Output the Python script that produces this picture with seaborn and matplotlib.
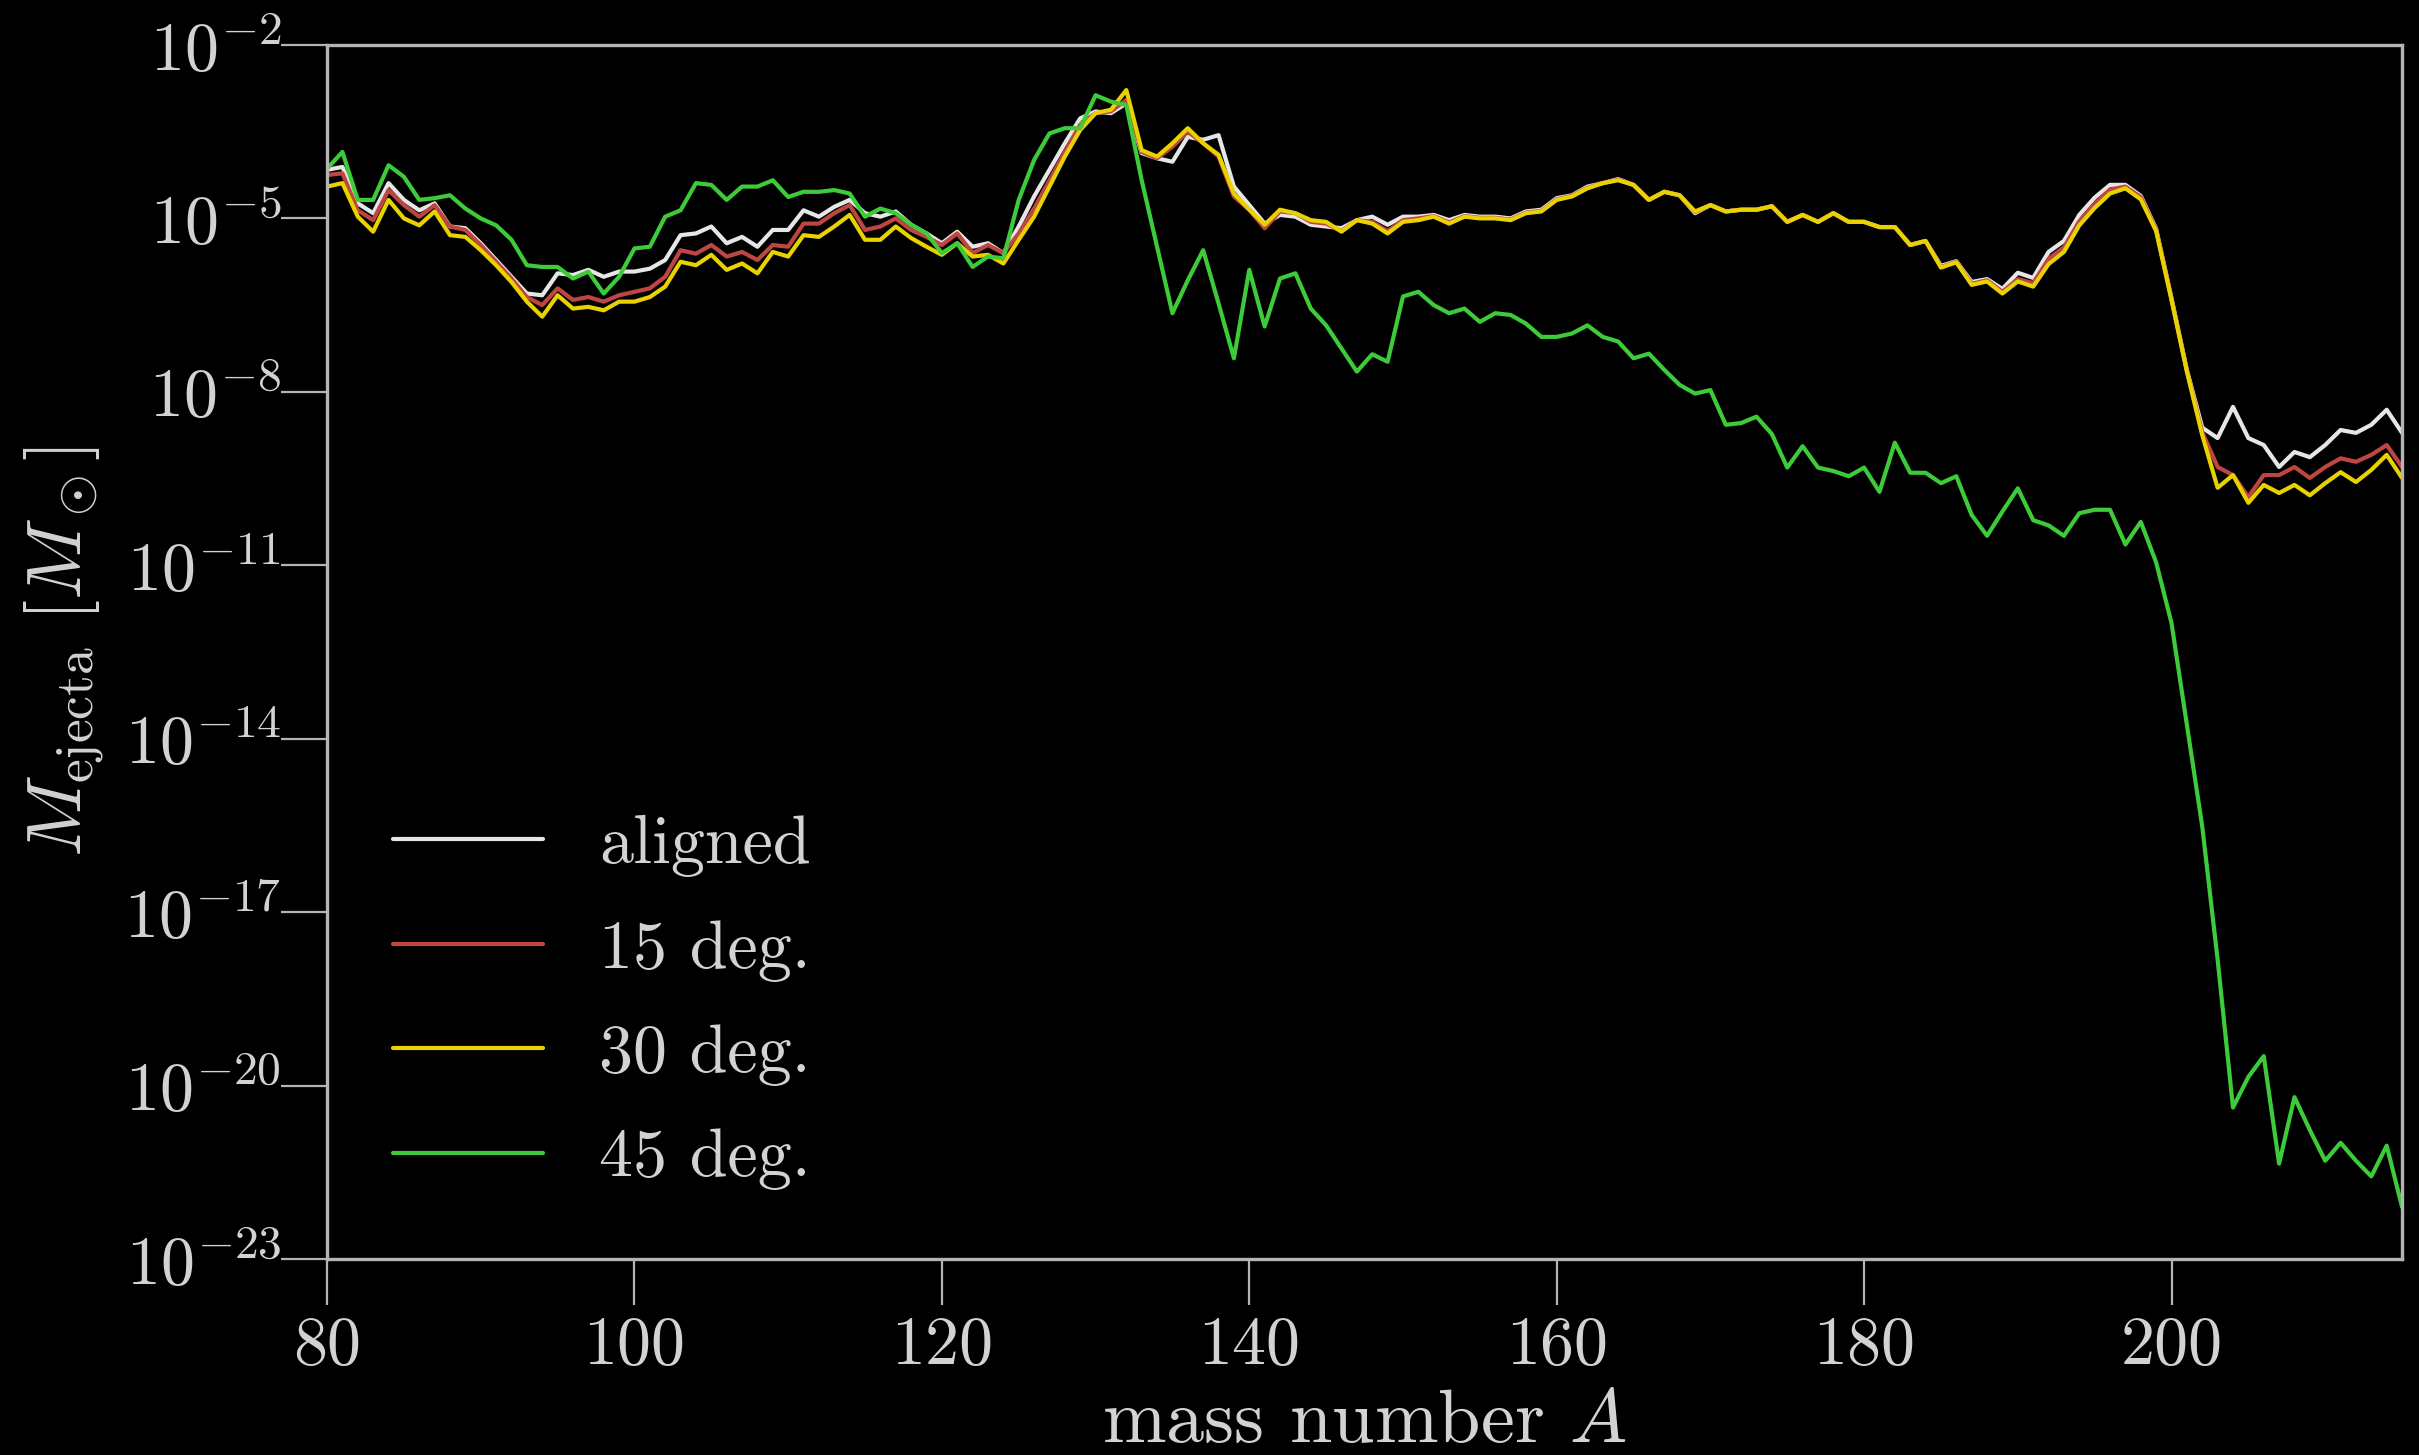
import numpy as np
import pandas as pd
import matplotlib
matplotlib.use("Agg")
import matplotlib.pyplot as plt
import seaborn as sns
from matplotlib.lines import Line2D

# ---------------- data (log10 of ejecta mass) ----------------
mass_number = list(range(80, 216))

log_aligned = [
    -4.16, -4.11, -4.74, -4.91, -4.39, -4.68, -4.86, -4.74, -5.14, -5.17,
    -5.43, -5.72, -6.01, -6.30, -6.33, -5.95, -5.98, -5.89, -6.01, -5.92,
    -5.92, -5.87, -5.72, -5.29, -5.26, -5.14, -5.43, -5.32, -5.49, -5.20,
    -5.20, -4.86, -4.97, -4.80, -4.68, -4.91, -4.97, -4.88, -5.11, -5.26,
    -5.43, -5.23, -5.49, -5.43, -5.60, -5.14, -4.62, -4.16, -3.70, -3.27,
    -3.15, -3.18, -3.01, -3.87, -3.96, -4.02, -3.59, -3.64, -3.56, -4.45,
    -4.77, -5.09, -4.94, -4.97, -5.11, -5.14, -5.17, -5.03, -4.97, -5.11,
    -4.97, -4.97, -4.94, -5.03, -4.94, -4.97, -4.97, -5.00, -4.88, -4.85,
    -4.65, -4.60, -4.45, -4.39, -4.32, -4.42, -4.68, -4.54, -4.60, -4.91,
    -4.77, -4.88, -4.85, -4.85, -4.79, -5.06, -4.94, -5.06, -4.91, -5.06,
    -5.06, -5.15, -5.15, -5.46, -5.39, -5.82, -5.74, -6.10, -6.05, -6.22,
    -5.94, -6.03, -5.58, -5.39, -4.94, -4.64, -4.42, -4.42, -4.61, -5.18,
    -6.38, -7.62, -8.62, -8.80, -8.26, -8.80, -8.92, -9.30, -9.04, -9.13,
    -8.92, -8.66, -8.71, -8.57, -8.31, -8.71,
]

log_15deg = [
    -4.25, -4.22, -4.86, -5.03, -4.51, -4.77, -4.97, -4.77, -5.14, -5.20,
    -5.46, -5.75, -6.04, -6.36, -6.50, -6.21, -6.41, -6.36, -6.44, -6.33,
    -6.27, -6.21, -6.01, -5.55, -5.61, -5.46, -5.66, -5.58, -5.72, -5.46,
    -5.49, -5.09, -5.09, -4.91, -4.77, -5.20, -5.14, -5.00, -5.20, -5.32,
    -5.46, -5.26, -5.60, -5.46, -5.60, -5.26, -4.83, -4.34, -3.85, -3.38,
    -3.18, -3.15, -2.95, -3.85, -3.96, -3.76, -3.50, -3.70, -3.93, -4.62,
    -4.85, -5.17, -4.88, -4.91, -5.06, -5.09, -5.22, -5.03, -5.06, -5.22,
    -5.03, -5.00, -4.96, -5.07, -4.96, -4.99, -4.99, -5.02, -4.90, -4.87,
    -4.67, -4.61, -4.47, -4.39, -4.33, -4.42, -4.68, -4.54, -4.60, -4.89,
    -4.77, -4.88, -4.85, -4.85, -4.79, -5.06, -4.94, -5.06, -4.91, -5.06,
    -5.06, -5.15, -5.15, -5.46, -5.39, -5.84, -5.75, -6.13, -6.07, -6.27,
    -6.05, -6.12, -5.70, -5.50, -5.05, -4.75, -4.50, -4.45, -4.63, -5.20,
    -6.40, -7.64, -8.70, -9.30, -9.44, -9.82, -9.44, -9.44, -9.30, -9.49,
    -9.30, -9.15, -9.21, -9.09, -8.92, -9.30,
]

log_30deg = [
    -4.45, -4.39, -4.97, -5.23, -4.68, -5.00, -5.12, -4.88, -5.29, -5.32,
    -5.55, -5.81, -6.10, -6.44, -6.70, -6.33, -6.56, -6.53, -6.59, -6.44,
    -6.44, -6.36, -6.18, -5.75, -5.81, -5.63, -5.89, -5.78, -5.95, -5.58,
    -5.66, -5.29, -5.32, -5.14, -4.94, -5.37, -5.37, -5.14, -5.34, -5.49,
    -5.63, -5.43, -5.66, -5.63, -5.78, -5.37, -4.97, -4.45, -3.93, -3.47,
    -3.18, -3.12, -2.78, -3.82, -3.93, -3.70, -3.44, -3.70, -3.90, -4.57,
    -4.85, -5.11, -4.85, -4.91, -5.03, -5.06, -5.23, -5.03, -5.09, -5.26,
    -5.06, -5.03, -4.97, -5.09, -4.97, -5.00, -5.00, -5.03, -4.91, -4.88,
    -4.68, -4.62, -4.48, -4.39, -4.34, -4.42, -4.68, -4.54, -4.60, -4.88,
    -4.77, -4.88, -4.85, -4.85, -4.79, -5.06, -4.94, -5.06, -4.91, -5.06,
    -5.06, -5.15, -5.15, -5.46, -5.39, -5.85, -5.76, -6.15, -6.09, -6.30,
    -6.09, -6.18, -5.79, -5.58, -5.12, -4.82, -4.57, -4.48, -4.67, -5.22,
    -6.41, -7.65, -8.75, -9.66, -9.44, -9.92, -9.61, -9.75, -9.61, -9.79,
    -9.58, -9.39, -9.56, -9.35, -9.09, -9.49,
]

log_45deg = [
    -4.14, -3.85, -4.68, -4.68, -4.08, -4.28, -4.68, -4.65, -4.60, -4.83,
    -5.00, -5.12, -5.37, -5.81, -5.84, -5.84, -6.04, -5.92, -6.30, -6.01,
    -5.52, -5.49, -4.97, -4.86, -4.39, -4.42, -4.68, -4.45, -4.45, -4.34,
    -4.63, -4.54, -4.54, -4.51, -4.57, -4.97, -4.83, -4.91, -5.11, -5.26,
    -5.60, -5.43, -5.84, -5.66, -5.69, -4.68, -3.99, -3.53, -3.44, -3.44,
    -2.87, -2.98, -3.04, -4.34, -5.49, -6.64, -6.07, -5.55, -6.47, -7.42,
    -5.89, -6.87, -6.04, -5.95, -6.56, -6.85, -7.25, -7.65, -7.35, -7.48,
    -6.35, -6.27, -6.50, -6.64, -6.56, -6.79, -6.64, -6.67, -6.82, -7.05,
    -7.05, -6.99, -6.85, -7.05, -7.13, -7.42, -7.34, -7.62, -7.88, -8.03,
    -7.97, -8.57, -8.54, -8.43, -8.73, -9.31, -8.94, -9.31, -9.37, -9.46,
    -9.31, -9.73, -8.88, -9.40, -9.40, -9.58, -9.46, -10.13, -10.49, -10.07,
    -9.67, -10.22, -10.31, -10.49, -10.10, -10.04, -10.04, -10.64, -10.25, -10.95,
    -12.00, -13.76, -15.52, -17.82, -20.38, -19.85, -19.49, -21.35, -20.20, -20.77,
    -21.30, -20.99, -21.30, -21.57, -21.04, -22.10,
]

series_labels = ["aligned", "15 deg.", "30 deg.", "45 deg."]
series_colors = ["#e6e6e6", "#bf4640", "#e8d200", "#3ecb3a"]
ytick_exponents = [-23, -20, -17, -14, -11, -8, -5, -2]
xtick_values = [80, 100, 120, 140, 160, 180, 200]

# ---------------- long-form table ----------------
frames = []
for lab, vals in zip(series_labels, [log_aligned, log_15deg, log_30deg, log_45deg]):
    frames.append(pd.DataFrame({
        "A": mass_number,
        "M": np.power(10.0, np.array(vals)),
        "case": lab,
    }))
df = pd.concat(frames, ignore_index=True)

# ---------------- style ----------------
sns.set_theme(style="dark")
text_col = "#d2d2d2"
spine_col = "#b4b4b4"
plt.rcParams.update({
    "font.family": ["serif"],
    "font.serif": ["cmr10", "DejaVu Serif"],
    "mathtext.fontset": "cm",
    "axes.formatter.use_mathtext": True,
    "axes.unicode_minus": False,
    "figure.facecolor": "black",
    "axes.facecolor": "black",
    "savefig.facecolor": "black",
    "text.color": text_col,
    "axes.labelcolor": text_col,
    "xtick.color": spine_col,
    "ytick.color": spine_col,
    "xtick.labelcolor": text_col,
    "ytick.labelcolor": text_col,
    "axes.grid": False,
})

fig = plt.figure(figsize=(12.095, 7.275), dpi=200)
ax = fig.add_axes([0.1352, 0.1347, 0.8578, 0.8344])

sns.lineplot(data=df, x="A", y="M", hue="case", hue_order=series_labels,
             palette=dict(zip(series_labels, series_colors)),
             linewidth=1.5, ax=ax, legend=False, estimator=None, sort=False)

ax.set_yscale("log")
ax.set_xlim(80, 215)
ax.set_ylim(1e-23, 1e-2)
ax.set_yticks([10.0 ** e for e in ytick_exponents])
ax.set_yticklabels([r"$10^{%d}$" % e for e in ytick_exponents])
ax.yaxis.set_minor_locator(matplotlib.ticker.NullLocator())
ax.set_xticks(xtick_values)
ax.set_xticklabels([str(v) for v in xtick_values])

for s in ax.spines.values():
    s.set_visible(True)
    s.set_color(spine_col)
    s.set_linewidth(1.2)

ax.tick_params(axis="both", which="major", direction="out", length=16.5, width=0.8,
               labelsize=24.5, bottom=True, left=True, top=False, right=False)
ax.tick_params(axis="x", pad=4)
ax.tick_params(axis="y", pad=0)

ax.set_xlabel(r"mass number $A$", fontsize=27.5, labelpad=4.5)
ax.set_ylabel(r"$M_{\rm ejecta}\ [M_\odot]$", fontsize=27.5, labelpad=6.5)

handles = [Line2D([], [], color=c, linewidth=1.5) for c in series_colors]
leg = ax.legend(handles, series_labels, loc="lower left",
                bbox_to_anchor=(0.032, 0.0565), frameon=False, fontsize=24.5,
                handlelength=2.2, handletextpad=0.82, labelspacing=0.62,
                borderpad=0, borderaxespad=0)
for t in leg.get_texts():
    t.set_color(text_col)

fig.savefig("out.png", dpi=200, facecolor="black")
